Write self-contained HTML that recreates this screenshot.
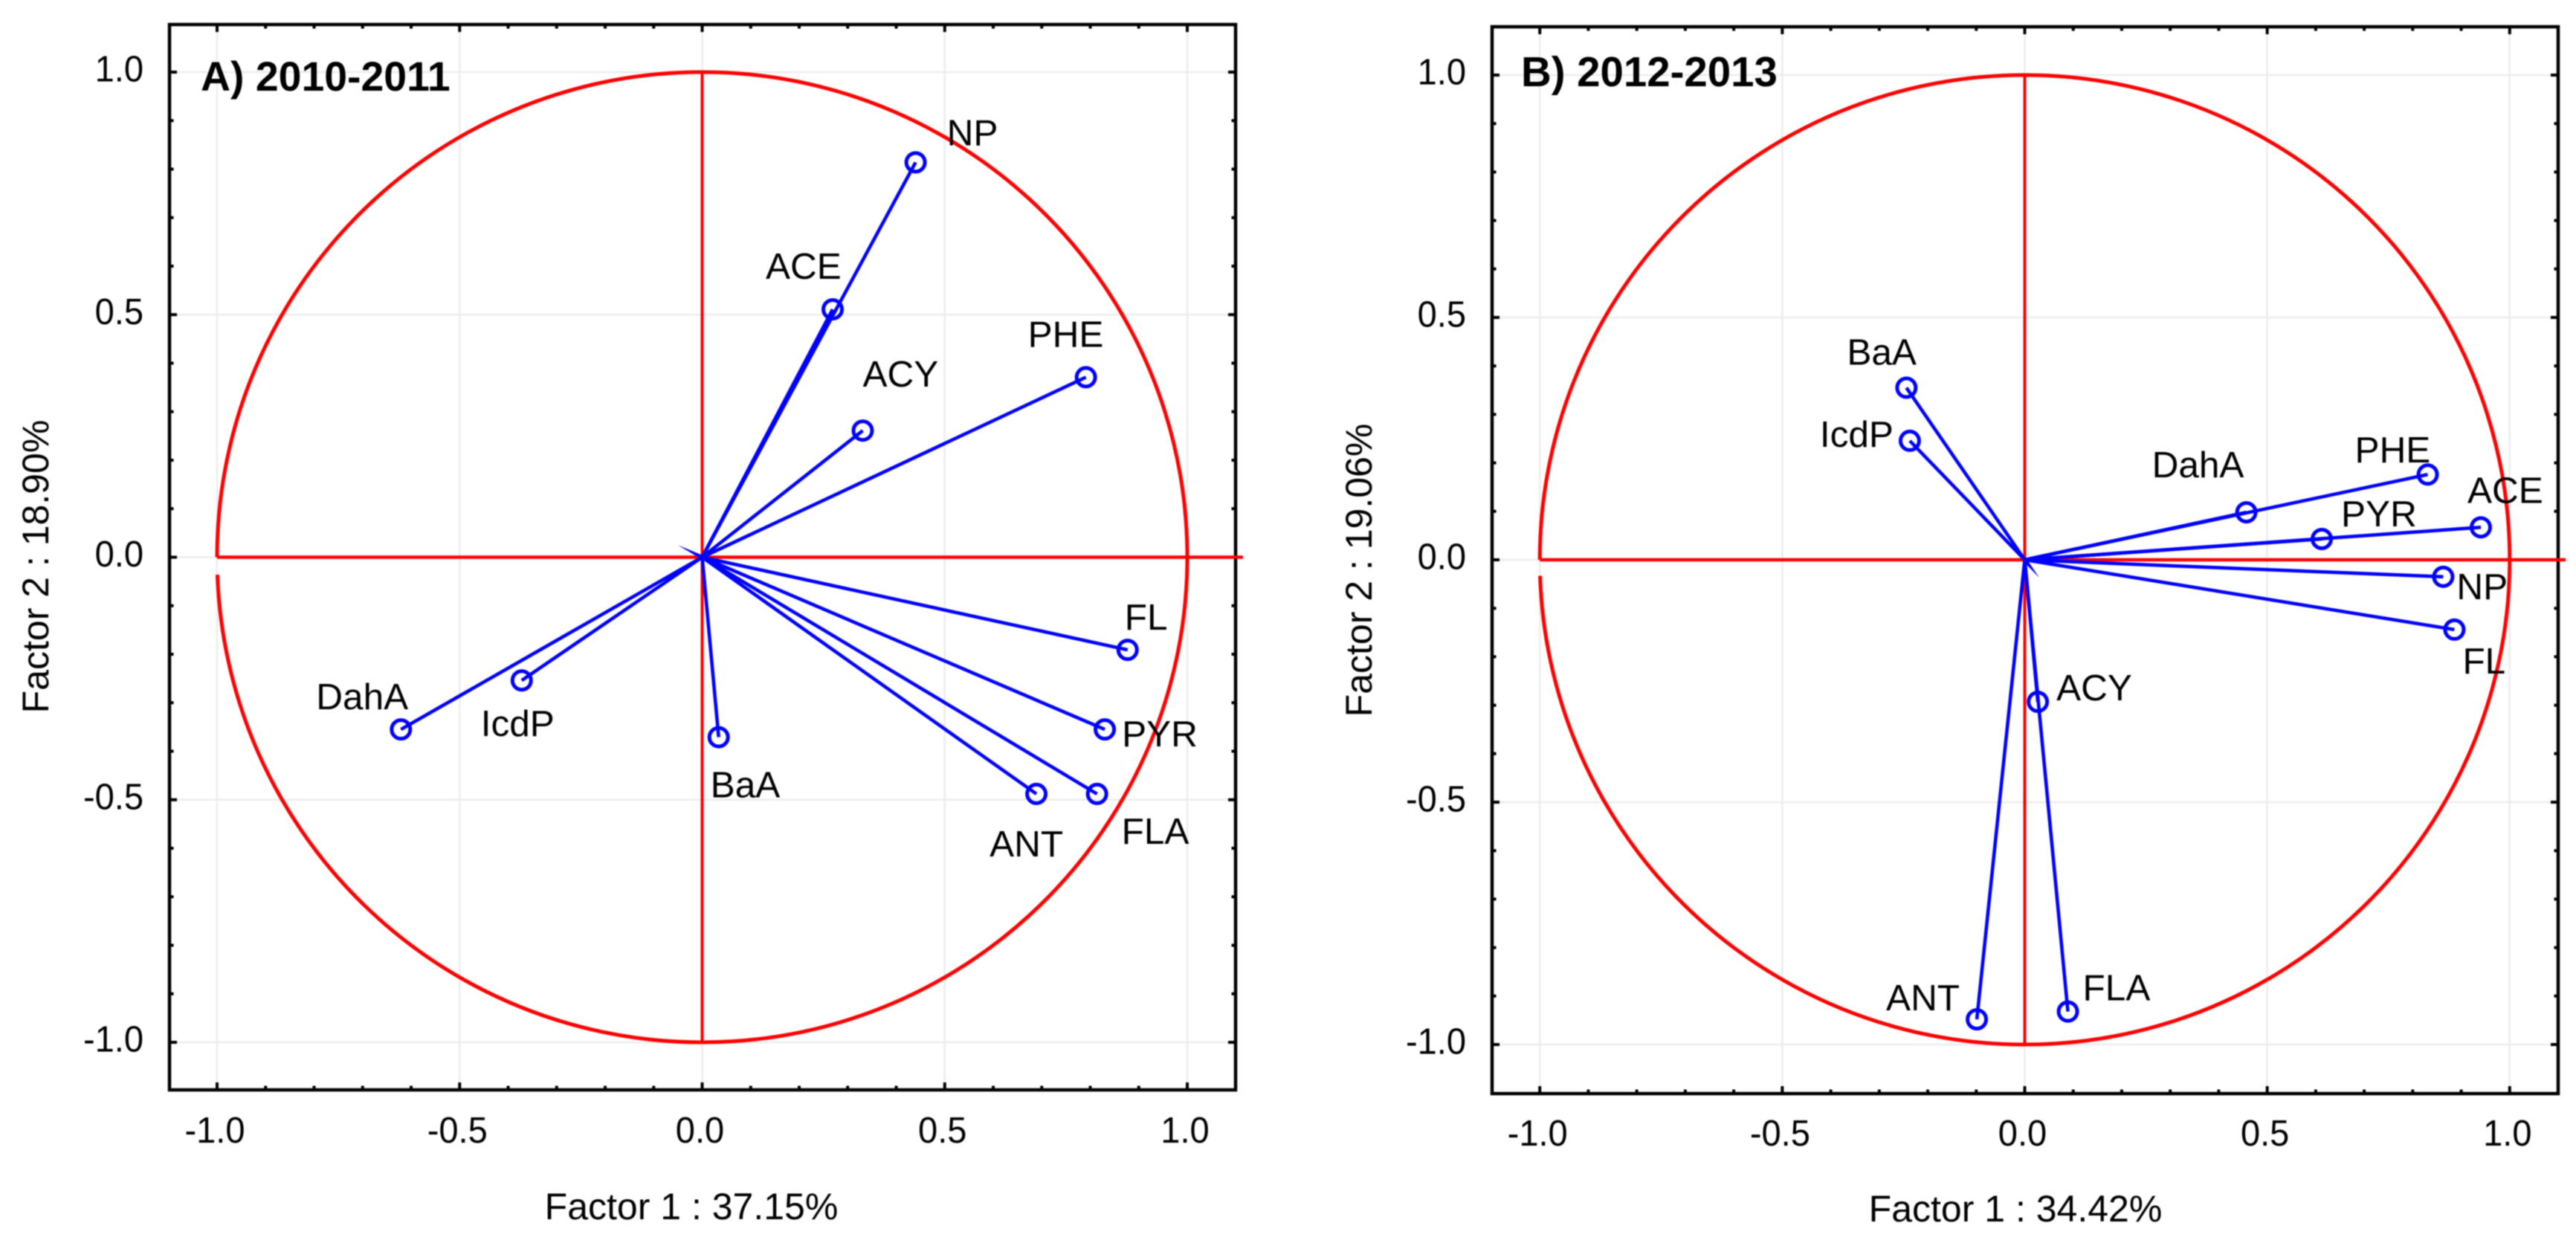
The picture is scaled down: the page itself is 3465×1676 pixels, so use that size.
<!DOCTYPE html>
<html lang="en">
<head>
<meta charset="utf-8">
<title>PCA loading plots 2010-2011 and 2012-2013</title>
<style>
html,body{margin:0;padding:0;background:#fff;}
#figure{display:block;width:3465px;height:1676px;filter:blur(0.8px);}
text{font-family:"Liberation Sans",Arial,sans-serif;fill:#000;}
</style>
</head>
<body>
<svg id="figure" xmlns="http://www.w3.org/2000/svg" width="3465" height="1676" viewBox="0 0 3465 1676">
  <rect x="0" y="0" width="3465" height="1676" fill="#fff"/>
  <g id="panel-a"></g>
  <g id="panel-b"></g>
  <text x="270" y="122" font-size="55.4" font-weight="bold">A) 2010-2011</text>
  <text x="2046" y="116" font-size="56.4" font-weight="bold">B) 2012-2013</text>
  <text x="930" y="1640" font-size="50" text-anchor="middle">Factor 1 : 37.15%</text>
  <text x="2711" y="1643" font-size="50" text-anchor="middle">Factor 1 : 34.42%</text>
  <text transform="translate(65,762) rotate(-90)" font-size="50" text-anchor="middle">Factor 2 : 18.90%</text>
  <text transform="translate(1845,767) rotate(-90)" font-size="50" text-anchor="middle">Factor 2 : 19.06%</text>
</svg>
<script>
var compounds = ["NP", "ACE", "ACY", "PHE", "FL", "PYR", "FLA", "ANT", "BaA", "DahA", "IcdP"];

var factor1A = [0.44, 0.269, 0.331, 0.791, 0.877, 0.83, 0.814, 0.689, 0.034, -0.621, -0.372];
var factor2A = [0.814, 0.511, 0.261, 0.371, -0.191, -0.355, -0.488, -0.488, -0.371, -0.355, -0.254];

var factor1B = [0.863, 0.9405, 0.027, 0.831, 0.886, 0.6125, 0.089, -0.0988, -0.244, 0.457, -0.237];
var factor2B = [-0.035, 0.067, -0.293, 0.176, -0.144, 0.043, -0.932, -0.948, 0.355, 0.098, 0.2455];

var majorTicks = [-1, -0.5, 0, 0.5, 1];
var majorTickLabels = ["-1.0", "-0.5", "0.0", "0.5", "1.0"];
var minorTicks = [-0.9, -0.8, -0.7, -0.6, -0.4, -0.3, -0.2, -0.1, 0.1, 0.2, 0.3, 0.4, 0.6, 0.7, 0.8, 0.9];

var SVGNS = "http://www.w3.org/2000/svg";

function make(parent, tag, attrs) {
  var node = document.createElementNS(SVGNS, tag);
  for (var key in attrs) { node.setAttribute(key, attrs[key]); }
  parent.appendChild(node);
  return node;
}

function condense(node) {
  node.setAttribute("textLength", node.getComputedTextLength() * 0.96);
  node.setAttribute("lengthAdjust", "spacingAndGlyphs");
}

function drawPanel(cfg) {
  var root = document.getElementById(cfg.id);
  function sx(v) { return cfg.x0 + v * cfg.ux; }
  function sy(v) { return cfg.y0 - v * cfg.uy; }
  var i, node;

  // gridlines
  for (i = 0; i < majorTicks.length; i++) {
    node = make(root, "line", {x1: sx(majorTicks[i]), x2: sx(majorTicks[i]), y1: cfg.top, y2: cfg.bottom, stroke: "#ececec", "stroke-width": 2.5});
    
    
    node = make(root, "line", {x1: cfg.left, x2: cfg.right, y1: sy(majorTicks[i]), y2: sy(majorTicks[i]), stroke: "#ececec", "stroke-width": 2.5});
    
    
  }

  // ticks on all four sides
  function ticks(values, len, name) {
    for (var k = 0; k < values.length; k++) {
      var d = "M" + sx(values[k]) + " " + cfg.top + "v" + len +
              "M" + sx(values[k]) + " " + cfg.bottom + "v" + (-len) +
              "M" + cfg.left + " " + sy(values[k]) + "h" + len +
              "M" + cfg.right + " " + sy(values[k]) + "h" + (-len);
      var t = make(root, "path", {d: d, stroke: "#000", "stroke-width": 4, fill: "none"});
      
      
    }
  }
  ticks(majorTicks, 10, 'major-tick');
  ticks(minorTicks, 5.5, 'minor-tick');

  // plot frame
  node = make(root, "rect", {x: cfg.left, y: cfg.top, width: cfg.right - cfg.left, height: cfg.bottom - cfg.top, fill: "none", stroke: "#000", "stroke-width": 4.5});
  
  

  // tick labels
  for (i = 0; i < majorTicks.length; i++) {
    node = make(root, "text", {x: sx(majorTicks[i]) - 3, y: cfg.xLabelY, "font-size": 49, "text-anchor": "middle"});
    node.textContent = majorTickLabels[i];
    condense(node);
    
    
    node = make(root, "text", {x: cfg.yLabelX, y: sy(majorTicks[i]) + 12.5, "font-size": 49, "text-anchor": "end"});
    node.textContent = majorTickLabels[i];
    condense(node);
    
    
  }

  // unit circle, open just below the left end of the horizontal axis
  var gap = cfg.circleGap;
  var circleD = "M" + sx(-1) + " " + sy(0) + "A" + cfg.ux + " " + cfg.uy + " 0 1 1 " +
                sx(-Math.sqrt(1 - gap * gap)) + " " + sy(-gap);
  node = make(root, "path", {d: circleD, fill: "none", stroke: "#ff0000", "stroke-width": 5});
  
  

  node = make(root, "line", {x1: sx(-1), x2: cfg.right + 10, y1: sy(0), y2: sy(0), stroke: "#ff0000", "stroke-width": 4.4});
  
  
  node = make(root, "line", {x1: sx(0), x2: sx(0), y1: sy(1), y2: sy(-1), stroke: "#ff0000", "stroke-width": 4});
  
  

  // small sliver at the origin
  var tx = sx(cfg.sliver[0]), ty = sy(cfg.sliver[1]);
  node = make(root, "polygon", {points: tx + "," + ty + " " + (sx(0) - 2) + "," + (sy(0) + 2) + " " + (sx(0) + 2) + "," + (sy(0) - 2), fill: "#0000ff"});
  
  

  // loading vectors
  for (i = 0; i < compounds.length; i++) {
    node = make(root, "line", {x1: sx(0), y1: sy(0), x2: sx(cfg.f1[i]), y2: sy(cfg.f2[i]), stroke: "#0000ff", "stroke-width": 4.6});
    
    
  }
  for (i = 0; i < compounds.length; i++) {
    node = make(root, "circle", {cx: sx(cfg.f1[i]), cy: sy(cfg.f2[i]), r: 12.5, fill: "none", stroke: "#0000ff", "stroke-width": 5});
    
    
  }
  for (i = 0; i < compounds.length; i++) {
    var nudge = cfg.nudge[compounds[i]];
    node = make(root, "text", {x: sx(cfg.f1[i]) + nudge[0], y: sy(cfg.f2[i]) + nudge[1], "font-size": 49.5});
    node.textContent = compounds[i];
    
    
  }
}

drawPanel({
  id: "panel-a", f1: factor1A, f2: factor2A,
  x0: 944.5, y0: 749.5, ux: 652.5, uy: 652.5,
  left: 228, right: 1662, top: 33, bottom: 1466,
  xLabelY: 1537, yLabelX: 193, circleGap: 0.036,
  sliver: [-0.05, 0.025],
  nudge: {NP: [42, -23], ACE: [-90, -41], ACY: [0, -59], PHE: [-78, -41], FL: [-4, -27], PYR: [23, 23],
          FLA: [33, 67], ANT: [-63, 84], BaA: [-11, 81], DahA: [-114, -27], IcdP: [-55, 75]}
});

drawPanel({
  id: "panel-b", f1: factor1B, f2: factor2B,
  x0: 2723.5, y0: 753, ux: 652.3, uy: 652,
  left: 2007, right: 3441, top: 36, bottom: 1471,
  xLabelY: 1541, yLabelX: 1972, circleGap: 0.033,
  sliver: [0.03, -0.037],
  nudge: {NP: [18, 30], ACE: [-18, -33], ACY: [25, -2], PHE: [-98, -16], FL: [11, 59], PYR: [26, -17],
          FLA: [20, -15], ANT: [-122, -12], BaA: [-80, -31], DahA: [-127, -47], IcdP: [-121, 8]}
});
</script>
</body>
</html>
